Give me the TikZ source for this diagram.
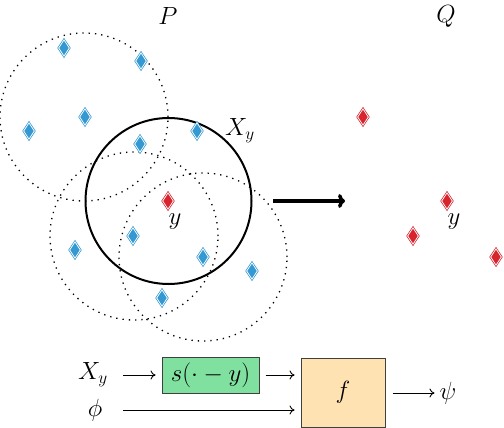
\documentclass[tikz,border=0pt]{standalone}
\usetikzlibrary{shapes.geometric,arrows.meta}
\definecolor{bdia}{RGB}{52,152,210}
\definecolor{rdia}{RGB}{216,36,45}
\definecolor{gbox}{RGB}{128,224,160}
\definecolor{obox}{RGB}{255,226,178}
\begin{document}
\begin{tikzpicture}[x=1pt,y=-1pt,
  lbl/.style={font=\fontsize{26.5}{31}\selectfont, inner sep=0pt},
  dia/.style={diamond, inner sep=0pt, minimum width=11pt, minimum height=16.5pt,
    draw=#1, fill=#1, double=white, double distance=0.75pt, line width=0.75pt},
  nbr/.style={draw, dotted, line width=1.3pt, dash pattern=on 1.3pt off 5pt},
  ball/.style={draw, line width=2pt},
  flow/.style={-{To[length=5pt,width=9pt]}, line width=0.9pt},
  blk/.style={draw=black!75, line width=1pt, inner sep=0pt, font=\fontsize{26.5}{31}\selectfont}]
\useasboundingbox (0,0) rectangle (504,428);
% labels
\node[lbl] (P) at (168,16) {$P$};
\node[lbl] (Q) at (446,16) {$Q$};
% neighbourhoods
\node[nbr, circle, minimum size=168pt] (c1) at (84,117) {};
\node[nbr, circle, minimum size=168pt] (c2) at (134,236) {};
\node[nbr, circle, minimum size=168pt] (c3) at (203,257) {};
\node[ball, circle, minimum size=166pt] (X) at (168.5,201) {};
\node[lbl] (Xl) at (240,131) {$X_y$};
% points of P
\foreach \n/\x/\y in {a/64/48, b/141/61, c/85/117, d/29/131, e/140/144, f/197/131,
  g/75/250, h/133/236, i/203/257, j/252/271, k/162/298}
  \node[dia=bdia] (p\n) at (\x,\y) {};
\node[dia=rdia] (py) at (168,201) {};
\node[lbl] (yl) at (175,222) {$y$};
% points of Q
\node[dia=rdia] (q1) at (363,117) {};
\node[dia=rdia] (q2) at (447,201) {};
\node[dia=rdia] (q3) at (413,236) {};
\node[dia=rdia] (q4) at (496,257) {};
\node[lbl] (qyl) at (454,222) {$y$};
% big arrow
\coordinate (A1) at (273,201);
\coordinate (A2) at (345,201);
\draw[-{To[length=7pt,width=14pt]}, line width=3.5pt] (A1) -- (A2);
% pipeline
\node[lbl] (Xin) at (93,375) {$X_y$};
\node[lbl] (phi) at (95,410) {$\phi$};
\node[blk, fill=gbox, minimum width=97pt, minimum height=36pt] (s) at (210.5,375) {$s(\cdot-y)$};
\node[blk, fill=obox, minimum width=84pt, minimum height=69pt] (f) at (343,392.5) {$f$};
\node[lbl] (psi) at (448,393) {$\psi$};
\coordinate (xs) at (123,375);
\coordinate (ps) at (123,410);
\draw[flow, shorten >=6pt] (xs) -- (s.west);
\draw[flow, shorten <=6pt, shorten >=6pt] (s.east) -- (f.west |- s.east);
\draw[flow, shorten >=6pt] (ps) -- (f.west |- ps);
\draw[flow, shorten <=7pt, shorten >=5pt] (f.east |- psi) -- (psi.west);
\end{tikzpicture}
\end{document}
